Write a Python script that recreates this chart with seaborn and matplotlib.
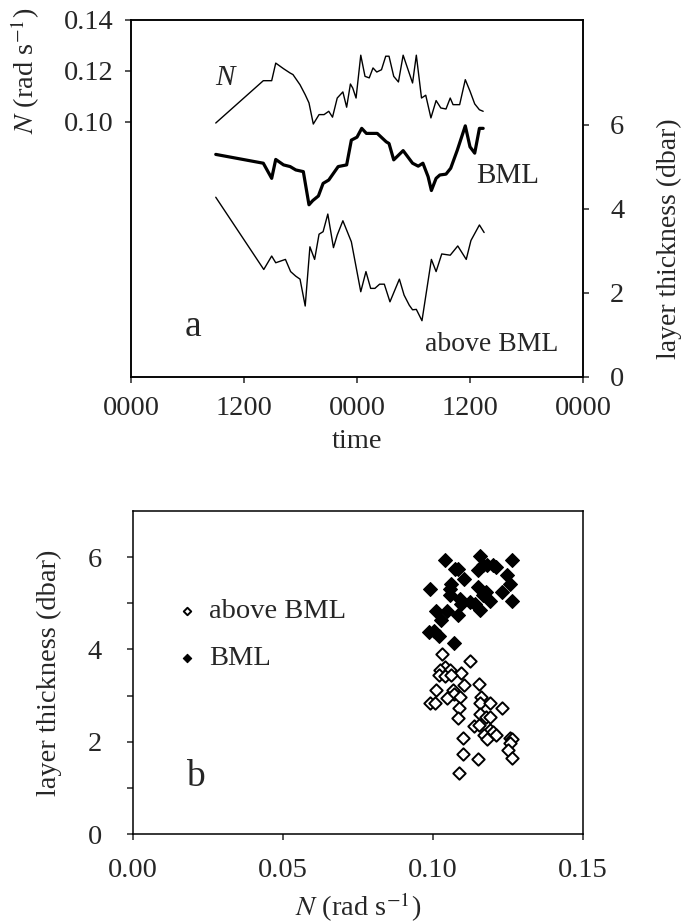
import matplotlib
matplotlib.use('Agg')
import matplotlib.pyplot as plt
import seaborn as sns

# time series (hours from first midnight)
n_time = [9.0, 14.05, 14.94, 15.37, 16.2, 16.9, 17.2, 17.95, 18.5, 18.9, 19.36, 19.97, 20.5,
          21.0, 21.4, 21.9, 22.5, 22.9, 23.3, 23.55, 23.9, 24.4, 24.85, 25.3, 25.7, 26.1,
          26.6, 27.05, 27.4, 27.9, 28.4, 28.9, 29.9, 30.3, 30.85, 31.3, 31.85, 32.4, 32.9,
          33.45, 33.9, 34.2, 34.9, 35.5, 36.0, 36.5, 37.0, 37.4]
n_vals = [0.0996, 0.1162, 0.1162, 0.1231, 0.1209, 0.1192, 0.1186, 0.1146, 0.1107, 0.1075,
          0.0992, 0.1029, 0.1029, 0.1042, 0.1019, 0.1094, 0.1118, 0.1058, 0.1149, 0.1133,
          0.1094, 0.1262, 0.1179, 0.1173, 0.1212, 0.1196, 0.1205, 0.1258, 0.1258, 0.1179,
          0.1157, 0.1262, 0.1153, 0.1262, 0.1094, 0.1105, 0.1016, 0.1084, 0.1055, 0.1051,
          0.1094, 0.1068, 0.1068, 0.1166, 0.1121, 0.1071, 0.1048, 0.1042]

bml_time = [9.0, 14.05, 14.94, 15.37, 16.2, 16.9, 17.5, 18.3, 18.9, 19.3, 19.9, 20.4, 21.0,
            22.0, 22.9, 23.4, 24.0, 24.5, 25.0, 26.15, 27.1, 27.4, 27.9, 28.9, 29.9, 30.5,
            31.0, 31.55, 31.9, 32.4, 32.8, 33.45, 33.95, 34.65, 35.5, 36.0, 36.5, 37.0, 37.4]
bml_vals = [5.30, 5.09, 4.73, 5.18, 5.05, 5.01, 4.93, 4.89, 4.10, 4.20, 4.31, 4.61, 4.69,
            5.01, 5.05, 5.64, 5.71, 5.92, 5.80, 5.80, 5.60, 5.56, 5.17, 5.39, 5.09, 5.02,
            5.09, 4.77, 4.44, 4.73, 4.81, 4.83, 4.97, 5.40, 5.98, 5.48, 5.33, 5.92, 5.92]

above_time = [9.0, 14.1, 14.94, 15.37, 16.4, 16.95, 17.5, 17.95, 18.5, 19.0, 19.5, 19.97,
              20.4, 20.9, 21.5, 21.9, 22.5, 23.4, 24.4, 24.95, 25.45, 25.9, 26.4, 26.9, 27.5,
              28.5, 29.0, 29.55, 29.9, 30.3, 30.9, 31.9, 32.4, 33.0, 33.9, 34.7, 35.6, 36.1,
              37.0, 37.5]
above_vals = [4.28, 2.56, 2.88, 2.72, 2.80, 2.51, 2.40, 2.33, 1.69, 3.10, 2.80, 3.40, 3.46,
              3.88, 3.08, 3.38, 3.72, 3.22, 2.03, 2.51, 2.11, 2.11, 2.21, 2.21, 1.79, 2.33,
              1.95, 1.71, 1.60, 1.61, 1.34, 2.80, 2.51, 2.93, 2.90, 3.12, 2.80, 3.25, 3.62, 3.44]

time_ticks = [0, 12, 24, 36, 48]
time_labels = ['0000', '1200', '0000', '1200', '0000']

# scatter: N vs layer thickness
bml_n = [0.1039, 0.1155, 0.1264, 0.1072, 0.1083, 0.1149, 0.1167, 0.1180, 0.1199, 0.1210,
         0.1247, 0.1102, 0.1061, 0.1256, 0.0991, 0.1055, 0.1150, 0.1178, 0.1230, 0.1058,
         0.1091, 0.1167, 0.1124, 0.1189, 0.1264, 0.1094, 0.1141, 0.1158, 0.1011, 0.1047,
         0.1082, 0.1027, 0.0985, 0.1002, 0.1019, 0.1071]
bml_thk = [5.94, 6.03, 5.94, 5.75, 5.75, 5.72, 5.82, 5.84, 5.83, 5.79,
           5.62, 5.53, 5.42, 5.42, 5.31, 5.31, 5.35, 5.24, 5.24, 5.17,
           5.10, 5.17, 5.02, 5.04, 5.04, 4.98, 4.99, 4.86, 4.83, 4.83,
           4.74, 4.63, 4.38, 4.41, 4.30, 4.14]
above_n = [0.1030, 0.1124, 0.1041, 0.1024, 0.1055, 0.1093, 0.1019, 0.1041, 0.1060, 0.1152,
           0.1104, 0.1011, 0.1067, 0.1071, 0.1047, 0.1089, 0.0989, 0.1005, 0.1160, 0.1158,
           0.1191, 0.1230, 0.1085, 0.1158, 0.1178, 0.1191, 0.1082, 0.1138, 0.1152, 0.1191,
           0.1200, 0.1169, 0.1211, 0.1180, 0.1100, 0.1258, 0.1264, 0.1256, 0.1249, 0.1100,
           0.1149, 0.1264, 0.1085]
above_thk = [3.91, 3.75, 3.62, 3.55, 3.55, 3.49, 3.44, 3.42, 3.44, 3.26,
             3.22, 3.12, 3.13, 3.03, 2.94, 2.96, 2.84, 2.83, 2.96, 2.83,
             2.84, 2.74, 2.74, 2.61, 2.54, 2.54, 2.51, 2.34, 2.36, 2.25,
             2.22, 2.14, 2.14, 2.05, 2.07, 2.07, 2.05, 1.97, 1.82, 1.73,
             1.62, 1.65, 1.33]

sns.set_style('ticks')
plt.rcParams['font.family'] = ['Liberation Serif', 'DejaVu Serif']
plt.rcParams['mathtext.fontset'] = 'stix'
plt.rcParams['axes.linewidth'] = 1.1
plt.rcParams['xtick.major.width'] = 1.1
plt.rcParams['ytick.major.width'] = 1.1
plt.rcParams['xtick.major.size'] = 4.5
plt.rcParams['ytick.major.size'] = 4.5
plt.rcParams['xtick.direction'] = 'out'
plt.rcParams['ytick.direction'] = 'out'
FS = 20.5

fig = plt.figure(figsize=(6.84, 9.24), dpi=100)

# ---- panel a ----
ax = fig.add_axes([131 / 684, 1 - 377 / 924, 452 / 684, 357 / 924])
ax2 = ax.twinx()
sns.lineplot(x=n_time, y=n_vals, ax=ax, color='black', linewidth=1.0)
sns.lineplot(x=bml_time, y=bml_vals, ax=ax2, color='black', linewidth=2.3)
sns.lineplot(x=above_time, y=above_vals, ax=ax2, color='black', linewidth=1.0)

ax.set_xlim(0, 48)
ax.set_ylim(0, 0.14)
ax2.set_ylim(0, 8.5)
ax.set_xticks(time_ticks)
ax.set_xticklabels(time_labels)
ax.set_yticks([0.10, 0.12, 0.14])
ax.set_yticklabels(['0.10', '0.12', '0.14'])
ax2.set_yticks([0, 2, 4, 6])
ax.tick_params(axis='x', labelsize=FS, pad=9)
ax.tick_params(axis='y', labelsize=FS, pad=8)
ax2.tick_params(axis='y', labelsize=FS, pad=15)
for a in (ax, ax2):
    for s in a.spines.values():
        s.set_visible(True)
        s.set_color('black')

ax.set_xlabel('time', fontsize=FS)
ax.xaxis.set_label_coords(0.5, -0.145)
ax.set_ylabel(r'$\mathit{N}$ (rad s$^{-1}$)', fontsize=FS)
ax.yaxis.set_label_coords(-0.197, 0.858)
ax2.set_ylabel('layer thickness (dbar)', fontsize=20)
ax2.yaxis.set_label_coords(1.163, 0.387)

ax.text(0.208, 0.838, 'N', transform=ax.transAxes, fontsize=21, style='italic',
        ha='center', va='center')
ax.text(0.834, 0.563, 'BML', transform=ax.transAxes, fontsize=21, ha='center', va='center')
ax.text(0.799, 0.09, 'above BML', transform=ax.transAxes, fontsize=20, ha='center', va='center')
ax.text(0.137, 0.14, 'a', transform=ax.transAxes, fontsize=27, ha='center', va='center')

# ---- panel b ----
bx = fig.add_axes([133 / 684, 1 - 834 / 924, 450 / 684, 323 / 924])
sns.scatterplot(x=above_n, y=above_thk, ax=bx, marker='D', s=40, facecolor='white',
                edgecolor='black', linewidth=1.4, label='above BML')
sns.scatterplot(x=bml_n, y=bml_thk, ax=bx, marker='D', s=50, color='black',
                edgecolor='black', linewidth=0.8, label='BML')
bx.set_xlim(0, 0.15)
bx.set_ylim(0, 7)
bx.set_xticks([0, 0.05, 0.10, 0.15])
bx.set_xticklabels(['0.00', '0.05', '0.10', '0.15'])
bx.set_yticks([0, 1, 2, 3, 4, 5, 6])
bx.set_yticklabels(['0', '', '2', '', '4', '', '6'])
bx.tick_params(axis='x', labelsize=FS, pad=13)
bx.tick_params(axis='y', labelsize=FS, pad=18)
for s in bx.spines.values():
    s.set_visible(True)
    s.set_color('black')
bx.set_xlabel(r'$\mathit{N}$ (rad s$^{-1}$)', fontsize=FS)
bx.xaxis.set_label_coords(0.5, -0.175)
bx.set_ylabel('layer thickness (dbar)', fontsize=FS)
bx.yaxis.set_label_coords(-0.158, 0.5)
bx.text(0.138, 0.176, 'b', transform=bx.transAxes, fontsize=27, ha='center', va='center')

leg = bx.legend(loc='upper left', bbox_to_anchor=(0.10, 0.73), frameon=False, fontsize=FS,
                handlelength=0.6, handletextpad=0.5, borderpad=0, borderaxespad=0,
                labelspacing=0.75, markerscale=0.6)

fig.savefig('out.png', dpi=100)
